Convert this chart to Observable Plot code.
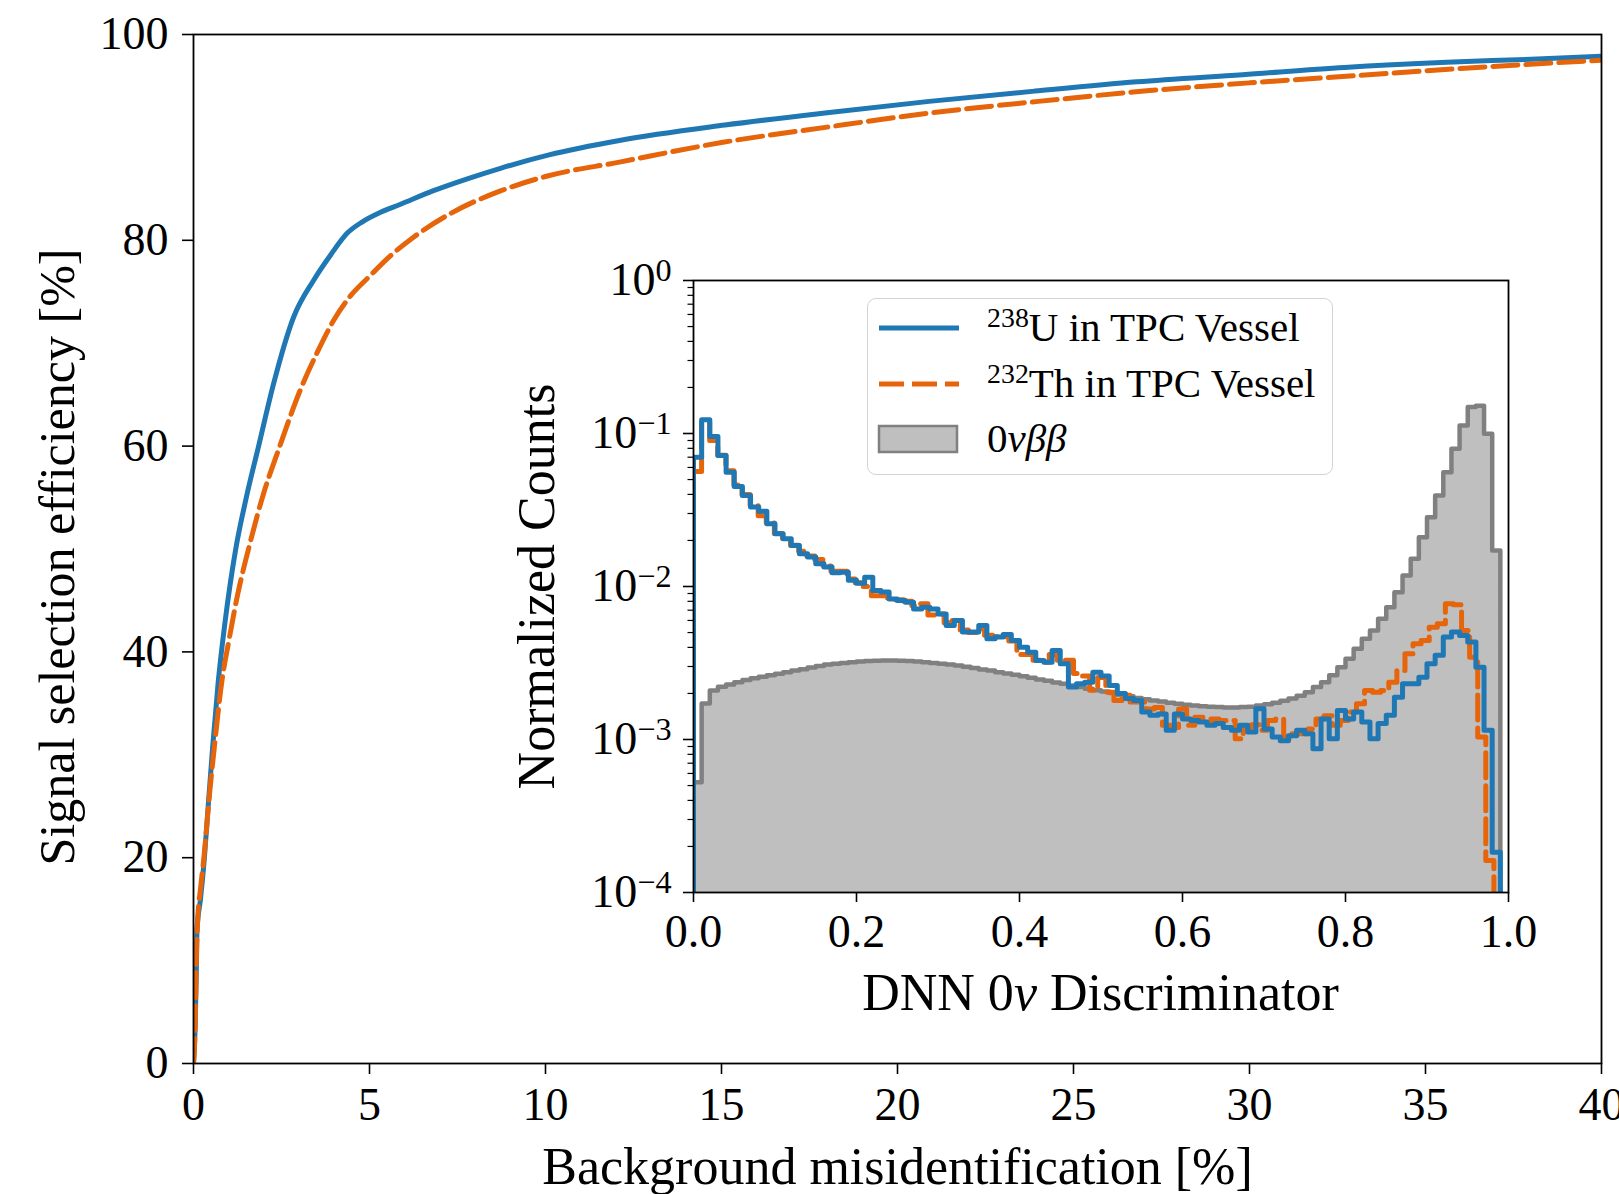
<!DOCTYPE html>
<html>
<head>
<meta charset="utf-8">
<script src="https://cdn.jsdelivr.net/npm/d3@7"></script>
<script src="https://cdn.jsdelivr.net/npm/@observablehq/plot@0.6"></script>
<style>
  html, body { margin: 0; padding: 0; background: #fff; }
  #wrap { position: relative; width: 1619px; height: 1194px; overflow: hidden; font-family: "Liberation Serif", serif; }
  #main, #inset, #legend { position: absolute; }
  #main { left: 0; top: 0; }
  #inset { left: 500px; top: 250px; }
  #legend { left: 867px; top: 298px; width: 466px; height: 177px; }
</style>
</head>
<body>
<div id="wrap"><div id="main"></div><div id="inset"></div><div id="legend"></div></div>
<script>
// ---------------- ROC curves (main panel), values in % ----------------
const rocUX = [0, 0.05, 0.08, 0.1, 0.2, 0.31, 0.43, 0.55, 0.7, 0.9, 1.2, 1.5, 1.85, 2.27, 2.84, 3.41, 3.9, 4.37, 4.8, 5.3, 5.88, 6.8, 7.8, 8.72, 10.1, 12.1, 15.1, 18, 20.9, 23.9, 26.8, 29.8, 32.7, 35.6, 38, 40];
const rocUY = [0, 4, 9, 13, 16, 20, 25.6, 31, 37, 43, 50, 55, 60, 66, 72.5, 76.1, 78.6, 80.7, 81.8, 82.7, 83.5, 84.8, 86, 87, 88.3, 89.7, 91.2, 92.4, 93.5, 94.5, 95.4, 96.1, 96.8, 97.3, 97.6, 97.9];
const rocThX = [0, 0.05, 0.08, 0.12, 0.2, 0.31, 0.45, 0.6, 0.8, 1.0, 1.25, 1.6, 2.0, 2.4, 3.04, 3.5, 3.98, 4.46, 5.0, 5.5, 6.25, 7.3, 8.72, 10, 12.1, 15, 18, 21, 24, 27, 30, 33, 36, 40];
const rocThY = [0, 4, 10, 14, 17, 20.5, 26, 31, 37, 41, 45.5, 50.5, 55.5, 59.5, 65.5, 69, 72.2, 74.6, 76.5, 78.2, 80.3, 82.6, 84.8, 86.2, 87.6, 89.5, 91, 92.4, 93.5, 94.5, 95.3, 96, 96.7, 97.5];

// ---------------- Inset histograms (normalized counts per bin) ----------------
const binWidthU = 0.01, binWidthTh = 0.00992, binWidthSig = 0.01;
const countsU = [
0.070, 0.123, 0.0955, 0.0718, 0.0558, 0.0451, 0.0394, 0.0331, 0.0310, 0.0257,
0.0221, 0.0205, 0.0185, 0.0164, 0.0156, 0.0141, 0.0134, 0.0123, 0.0124, 0.0110,
0.0105, 0.0115, 0.0094, 0.0092, 0.0083, 0.0081, 0.0079, 0.00714, 0.00733, 0.00714,
0.00662, 0.00556, 0.00600, 0.00504, 0.00504, 0.00556, 0.00455, 0.00467, 0.00485, 0.00444,
0.00401, 0.00372, 0.00328, 0.00320, 0.00382, 0.00313, 0.00220, 0.00231, 0.00237, 0.00275,
0.00260, 0.00225, 0.00200, 0.00185, 0.00180, 0.00151, 0.00144, 0.00147, 0.00115, 0.00147,
0.00136, 0.00133, 0.00130, 0.00124, 0.00127, 0.00120, 0.00115, 0.00124, 0.00112, 0.00159,
0.00117, 0.00104, 0.00098, 0.00106, 0.00115, 0.00109, 0.00087, 0.00136, 0.00101, 0.00155,
0.00136, 0.00151, 0.00130, 0.00101, 0.00127, 0.00144, 0.00189, 0.00231, 0.00231, 0.00255,
0.00313, 0.00355, 0.00467, 0.00504, 0.00479, 0.00433, 0.00297, 0.00115, 0.000183];
const countsTh = [
0.0565, 0.118, 0.090, 0.072, 0.057, 0.046, 0.040, 0.034, 0.0290, 0.0260,
0.0222, 0.0207, 0.0186, 0.0170, 0.0158, 0.0150, 0.0136, 0.0126, 0.0126, 0.0112,
0.0106, 0.0100, 0.0087, 0.0087, 0.0084, 0.0082, 0.0080, 0.0075, 0.0077, 0.0065,
0.0066, 0.0058, 0.0060, 0.0052, 0.0050, 0.0053, 0.0048, 0.0047, 0.0047, 0.0044,
0.0036, 0.0036, 0.0033, 0.0032, 0.0036, 0.0033, 0.0033, 0.0027, 0.0026, 0.0021,
0.00254, 0.00204, 0.00180, 0.00195, 0.00176, 0.00176, 0.00158, 0.00162, 0.00124, 0.00120,
0.00158, 0.00124, 0.00140, 0.00127, 0.00136, 0.00133, 0.00133, 0.00101, 0.00120, 0.00125,
0.00115, 0.00133, 0.00136, 0.00101, 0.00109, 0.00109, 0.00117, 0.00136, 0.00143, 0.00124,
0.00133, 0.00151, 0.00171, 0.00209, 0.00204, 0.00209, 0.00237, 0.00282, 0.00363, 0.00422,
0.00444, 0.00542, 0.00570, 0.00771, 0.00760, 0.00515, 0.00345, 0.00104, 0.000162];
const countsSignal = [
0.000525, 0.00172, 0.00209, 0.00221, 0.00229, 0.00237, 0.00245, 0.00251, 0.00257, 0.00263,
0.00269, 0.00275, 0.00282, 0.00288, 0.00295, 0.00302, 0.00309, 0.00313, 0.00316, 0.00320,
0.00324, 0.00326, 0.00327, 0.00328, 0.00328, 0.00327, 0.00326, 0.00324, 0.00320, 0.00316,
0.00313, 0.00309, 0.00304, 0.00299, 0.00293, 0.00287, 0.00282, 0.00275, 0.00270, 0.00265,
0.00259, 0.00253, 0.00247, 0.00242, 0.00236, 0.00231, 0.00225, 0.00220, 0.00215, 0.00210,
0.00206, 0.00201, 0.00196, 0.00192, 0.00187, 0.00183, 0.00180, 0.00177, 0.00174, 0.00171,
0.00169, 0.00167, 0.00165, 0.00164, 0.00163, 0.00162, 0.00162, 0.00163, 0.00164, 0.00167,
0.00170, 0.00174, 0.00179, 0.00185, 0.00193, 0.00204, 0.00220, 0.00237, 0.00263, 0.00297,
0.00337, 0.00392, 0.00455, 0.00515, 0.00615, 0.00733, 0.00918, 0.0118, 0.0152, 0.0210,
0.0284, 0.0394, 0.0558, 0.0794, 0.113, 0.149, 0.152, 0.0995, 0.0172];

// ---------------- ticks & labels ----------------
const mainXTicks = [0, 5, 10, 15, 20, 25, 30, 35, 40];
const mainYTicks = [0, 20, 40, 60, 80, 100];
const insetXTicks = [0, 0.2, 0.4, 0.6, 0.8, 1.0];
const insetYDecades = [1e-4, 1e-3, 1e-2, 1e-1, 1];
const mainXLabel = "Background misidentification [%]";
const mainYLabel = "Signal selection efficiency [%]";
const insetYLabel = "Normalized Counts";
const legendLabels = [
  {sup: "238", text: "U in TPC Vessel"},
  {sup: "232", text: "Th in TPC Vessel"},
  {sup: "", text: "0νββ"}
];

// ---------------- colours ----------------
const cU = "#1f77b4", cTh = "#e6650a", cSigFill = "#bfbfbf", cSigLine = "#808080";
const dashTh = "25,8";

// ---------------- build data tables ----------------
const rocU = rocUX.map((x, i) => ({x, y: rocUY[i]}));
const rocTh = rocThX.map((x, i) => ({x, y: rocThY[i]}));
const FLOOR = 1e-6;
function stepPoints(vals, w) {
  const pts = [{x: 0, y: FLOOR}];
  vals.forEach((v, i) => pts.push({x: i * w, y: v}));
  pts.push({x: vals.length * w, y: vals[vals.length - 1]});
  pts.push({x: vals.length * w, y: FLOOR});
  return pts;
}
const stepU = stepPoints(countsU, binWidthU);
const stepTh = stepPoints(countsTh, binWidthTh);
const stepSig = stepPoints(countsSignal, binWidthSig);

const minorTicks = [];
for (let e = -4; e < 0; e++) for (let m = 2; m <= 9; m++) minorTicks.push(m * Math.pow(10, e));

// ---------------- main plot ----------------
const mainPlot = Plot.plot({
  width: 1619, height: 1194,
  marginLeft: 193, marginRight: 18, marginTop: 34, marginBottom: 131,
  style: {fontFamily: "Liberation Serif, serif", fontSize: "46px", color: "#000", background: "white", overflow: "visible"},
  x: {domain: [0, 40], label: null},
  y: {domain: [0, 100], label: null},
  marks: [
    Plot.line(rocU, {x: "x", y: "y", stroke: cU, strokeWidth: 5, curve: "monotone-x", clip: true}),
    Plot.line(rocTh, {x: "x", y: "y", stroke: cTh, strokeWidth: 5, strokeDasharray: dashTh, curve: "monotone-x", clip: true}),
    Plot.axisX({ticks: mainXTicks, tickSize: 11, tickPadding: 13, strokeWidth: 1.6, label: null}),
    Plot.axisY({ticks: mainYTicks, tickSize: 11, tickPadding: 14, strokeWidth: 1.6, label: null}),
    Plot.frame({stroke: "#000", strokeWidth: 1.8}),
    Plot.text([mainXLabel], {text: d => d, frameAnchor: "bottom", dy: 120, lineAnchor: "bottom", textAnchor: "middle", fontSize: 52}),
    Plot.text([mainYLabel], {text: d => d, frameAnchor: "left", rotate: -90, dx: -120, dy: 8, lineAnchor: "bottom", textAnchor: "middle", fontSize: 50})
  ]
});
document.getElementById("main").appendChild(mainPlot);

// ---------------- inset plot ----------------
const insetPlot = Plot.plot({
  width: 1060, height: 770,
  marginLeft: 193, marginRight: 52, marginTop: 30, marginBottom: 128,
  style: {fontFamily: "Liberation Serif, serif", fontSize: "46px", color: "#000", background: "transparent", overflow: "visible"},
  x: {domain: [0, 1], label: null},
  y: {type: "log", domain: [1e-4, 1], label: null},
  marks: [
    Plot.frame({fill: "white"}),
    Plot.areaY(stepSig, {x: "x", y1: FLOOR, y2: "y", curve: "step-after", fill: cSigFill, clip: true}),
    Plot.line(stepSig, {x: "x", y: "y", curve: "step-after", stroke: cSigLine, strokeWidth: 4.5, clip: true}),
    Plot.line(stepTh, {x: "x", y: "y", curve: "step-after", stroke: cTh, strokeWidth: 5, strokeDasharray: dashTh, clip: true}),
    Plot.line(stepU, {x: "x", y: "y", curve: "step-after", stroke: cU, strokeWidth: 5, clip: true}),
    Plot.axisX({ticks: insetXTicks, tickSize: 10, tickPadding: 12, strokeWidth: 1.6, tickFormat: d3.format(".1f"), label: null}),
    Plot.axisY({ticks: insetYDecades, tickSize: 10, tickPadding: 12, strokeWidth: 1.6,
      tickFormat: d => "10^" + String(Math.round(Math.log10(d))).replace("-", "\u2212"), label: null}),
    Plot.axisY({ticks: minorTicks, tickSize: 5.5, strokeWidth: 1.2, fill: "none", label: null}),
    Plot.frame({stroke: "#000", strokeWidth: 1.8}),
    Plot.text([insetYLabel], {text: d => d, frameAnchor: "left", rotate: -90, dx: -140, lineAnchor: "bottom", textAnchor: "middle", fontSize: 52})
  ]
});
document.getElementById("inset").appendChild(insetPlot);

// superscript exponents on the log-axis tick labels
d3.select(insetPlot).selectAll('g[aria-label="y-axis tick label"] text').each(function() {
  const t = d3.select(this);
  const s = t.text();
  if (!s.includes("^")) return;
  const [base, exp] = s.split("^");
  t.text("");
  t.append("tspan").text(base);
  t.append("tspan").attr("dy", "-0.45em").attr("font-size", "0.7em").text(exp);
});

// inset x label with italic nu
{
  const svg = d3.select(insetPlot);
  const cx = (193 + (1060 - 52)) / 2;
  const t = svg.append("text")
    .attr("x", cx).attr("y", (770 - 128) + 118)
    .attr("text-anchor", "middle")
    .attr("font-family", "Liberation Serif, serif")
    .attr("font-size", 52)
    .attr("fill", "#000");
  t.append("tspan").text("DNN 0");
  t.append("tspan").attr("font-style", "italic").text("ν");
  t.append("tspan").text(" Discriminator");
}

// ---------------- legend (inside inset) ----------------
{
  const lg = d3.select("#legend");
  lg.style("box-sizing", "border-box")
    .style("border", "1.6px solid #d3d3d3")
    .style("border-radius", "9px")
    .style("background", "rgba(255,255,255,0.8)");
  const svg = lg.append("svg").attr("width", 466).attr("height", 177)
    .style("position", "absolute").style("left", "-1.6px").style("top", "-1.6px").style("overflow", "visible");
  const rowsY = [31, 87, 142];
  svg.append("line").attr("x1", 13).attr("x2", 93).attr("y1", rowsY[0]).attr("y2", rowsY[0])
    .attr("stroke", cU).attr("stroke-width", 5);
  svg.append("line").attr("x1", 13).attr("x2", 93).attr("y1", rowsY[1]).attr("y2", rowsY[1])
    .attr("stroke", cTh).attr("stroke-width", 5).attr("stroke-dasharray", dashTh);
  svg.append("rect").attr("x", 13).attr("y", rowsY[2] - 13).attr("width", 78).attr("height", 26)
    .attr("fill", cSigFill).attr("stroke", cSigLine).attr("stroke-width", 2.5);
  legendLabels.forEach((d, i) => {
    const t = svg.append("text").attr("x", 121).attr("y", rowsY[i] + 13)
      .attr("font-family", "Liberation Serif, serif").attr("font-size", 41).attr("fill", "#000");
    if (d.sup) {
      t.append("tspan").attr("font-size", "0.68em").attr("dy", "-0.5em").text(d.sup);
      t.append("tspan").attr("dy", "0.34em").text(d.text);
    } else {
      t.append("tspan").text("0");
      t.append("tspan").attr("font-style", "italic").text(d.text.slice(1));
    }
  });
}
</script>
</body>
</html>
